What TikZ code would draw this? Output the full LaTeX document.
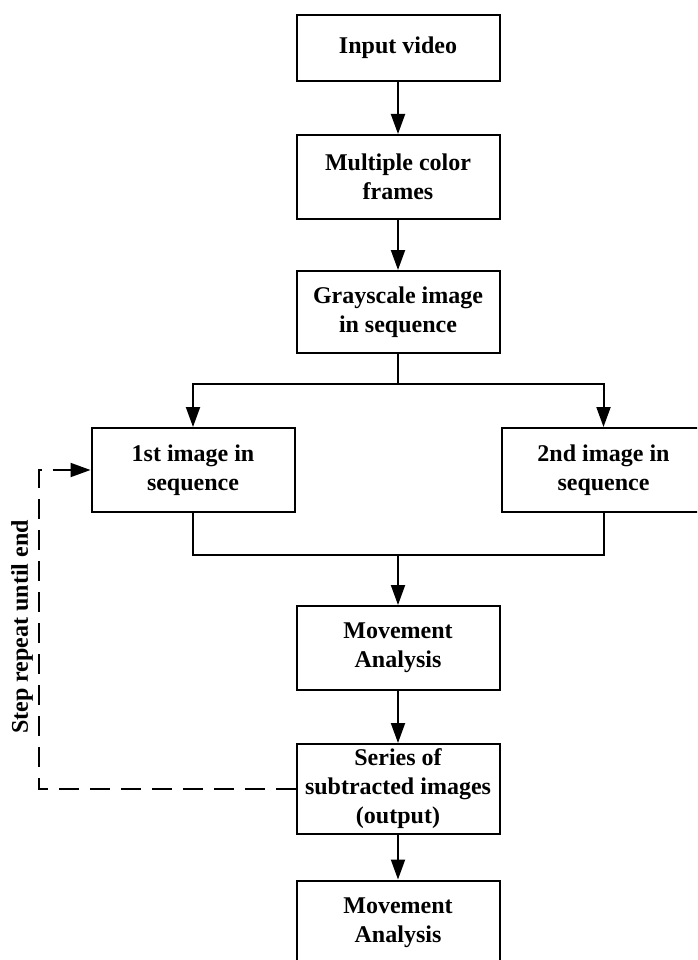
\documentclass[tikz,border=0pt]{standalone}
\usepackage{fontspec}
\setmainfont{Liberation Serif}
\usetikzlibrary{arrows.meta}
\begin{document}
\begin{tikzpicture}[x=1pt,y=-1pt,
  txt/.style={font=\fontsize{24}{29}\selectfont\bfseries},
  box/.style={txt, draw, line width=2pt, minimum width=203pt, align=center, inner sep=0pt},
  tip/.style={-{Triangle[length=20pt,width=14pt]}},
  conn/.style={line width=2pt, tip},
  plain/.style={line width=2pt},
  loop/.style={line width=2pt, dash pattern=on 20pt off 11pt, tip}]
\useasboundingbox (0,0) rectangle (697,960);
\clip (0,0) rectangle (697,960);
\node[box, minimum height=66pt] (b1) at (398,48) {Input video};
\node[box, minimum height=84pt] (b2) at (398,177) {Multiple color\\frames};
\node[box, minimum height=82pt] (b3) at (398,312) {Grayscale image\\in sequence};
\node[box, minimum height=84pt] (b4) at (193,470) {1st image in\\sequence};
\node[box, minimum height=84pt] (b5) at (603.5,470) {2nd image in\\sequence};
\node[box, minimum height=84pt] (b6) at (398,648) {Movement\\Analysis};
\node[box, minimum height=90pt] (b7) at (398,789) {Series of\\subtracted images\\(output)};
\node[box, minimum height=84pt] (b8) at (398,922.5) {Movement\\Analysis};
\node[txt, rotate=90] (lbl) at (22,627) {Step repeat until end};
\coordinate (br) at (398,384);
\coordinate (mg) at (398,555);
\coordinate (d1) at (39,789);
\coordinate (d2) at (39,470);
\draw[conn] (b1) -- (b2);
\draw[conn] (b2) -- (b3);
\draw[plain] (b3.south) -- (br);
\draw[conn] (br) -| (b4.north);
\draw[conn] (br) -| (b5.north);
\draw[plain] (b4.south) |- (mg) -| (b5.south);
\draw[conn] (mg) -- (b6.north);
\draw[conn] (b6) -- (b7);
\draw[conn] (b7) -- (b8);
\draw[loop] (b7.west) -- (d1) -- (d2) -- (b4.west);
\end{tikzpicture}
\end{document}
